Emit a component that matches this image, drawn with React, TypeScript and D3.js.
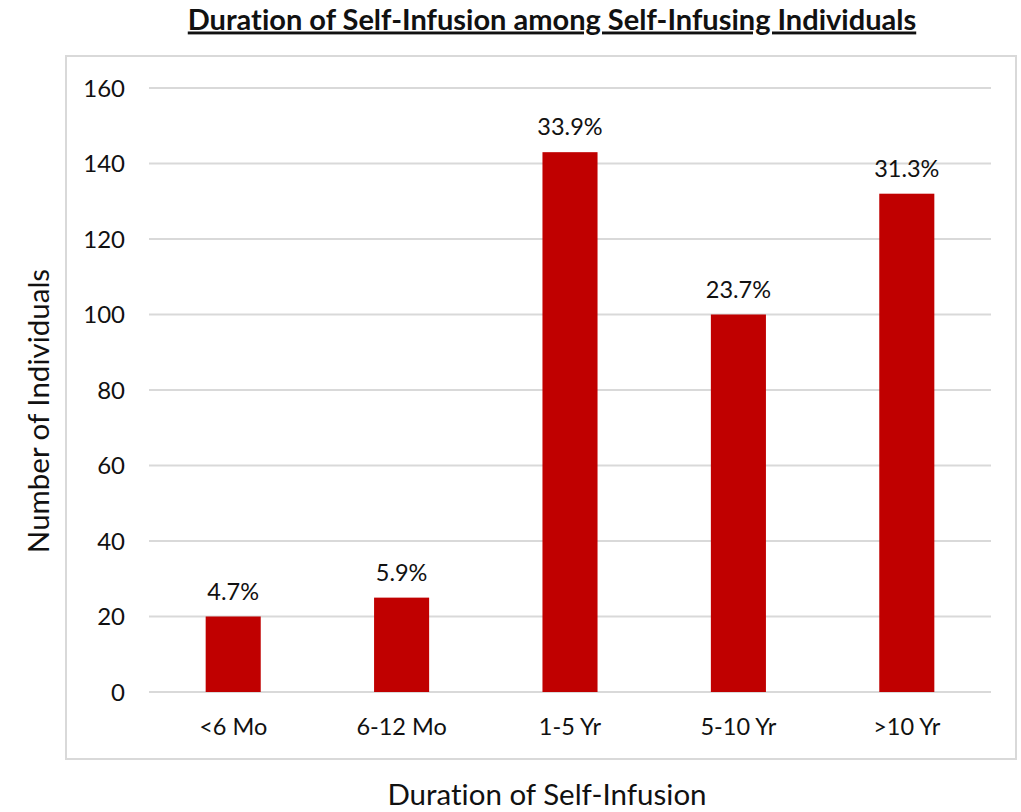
import React from "react";
import * as d3 from "d3";

const categories = ["<6 Mo", "6-12 Mo", "1-5 Yr", "5-10 Yr", ">10 Yr"];
const counts = [20, 25, 143, 100, 132];
const percentLabels = ["4.7%", "5.9%", "33.9%", "23.7%", "31.3%"];
const yTicks = [0, 20, 40, 60, 80, 100, 120, 140, 160];

const W = 1021;
const H = 812;
const FONT = "Lato, 'Open Sans', sans-serif";

export default function App() {
  const x = d3
    .scaleBand<string>()
    .domain(categories)
    .range([149, 991])
    .paddingInner(0.673)
    .paddingOuter(0.3365);
  const y = d3.scaleLinear().domain([0, 160]).range([692, 88]);

  return (
    <svg
      width={W}
      height={H}
      style={{ position: "absolute", left: 0, top: 0, background: "#fff", fontVariantLigatures: "none" }}
      fontFamily={FONT}
    >
      <rect x={0} y={0} width={W} height={H} fill="#fff" />
      <text
        x={552}
        y={29.5}
        textAnchor="middle"
        fontSize={29}
        fontWeight="bold"
        fill="#111"
        textDecoration="underline"
      >
        Duration of Self-Infusion among Self-Infusing Individuals
      </text>
      <rect x={66} y={56} width={950} height={703} fill="none" stroke="#d9d9d9" strokeWidth={2} />
      {yTicks.map((t) => (
        <g key={t}>
          <line x1={149} x2={991} y1={y(t)} y2={y(t)} stroke="#d9d9d9" strokeWidth={2} />
          <text x={125} y={y(t)} dy="0.36em" textAnchor="end" fontSize={24} fill="#111">
            {t}
          </text>
        </g>
      ))}
      {categories.map((c, i) => (
        <g key={c}>
          <rect
            x={x(c)}
            y={y(counts[i])}
            width={x.bandwidth()}
            height={y(0) - y(counts[i])}
            fill="#c00000"
          />
          <text
            x={(x(c) as number) + x.bandwidth() / 2}
            y={y(counts[i]) - 17}
            textAnchor="middle"
            fontSize={23.5}
            fill="#111"
          >
            {percentLabels[i]}
          </text>
          <text
            x={(x(c) as number) + x.bandwidth() / 2}
            y={735}
            textAnchor="middle"
            fontSize={23.5}
            fill="#111"
          >
            {c}
          </text>
        </g>
      ))}
      <text x={547} y={805} textAnchor="middle" fontSize={29.5} fill="#111">
        Duration of Self-Infusion
      </text>
      <text
        transform="translate(49,411) rotate(-90)"
        textAnchor="middle"
        fontSize={29.5}
        fill="#111"
      >
        Number of Individuals
      </text>
    </svg>
  );
}
